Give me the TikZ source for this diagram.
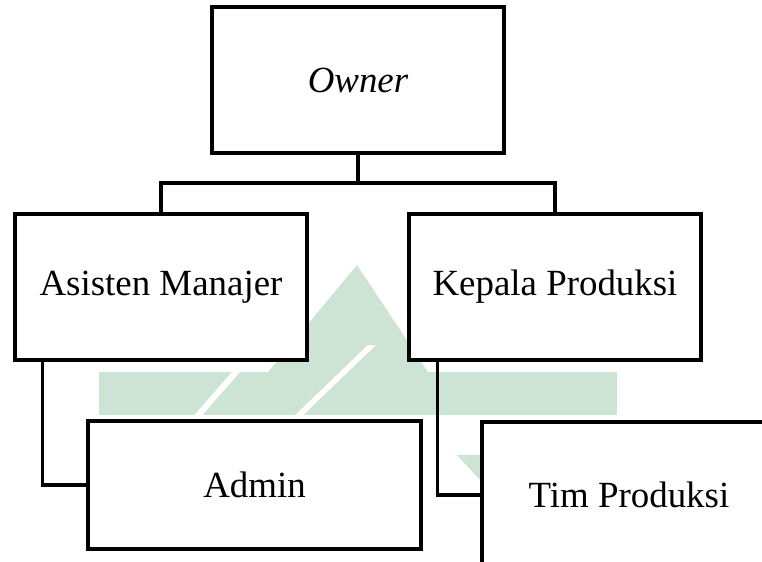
\documentclass[tikz,border=0pt]{standalone}
\usepackage{fontspec}
\setmainfont{Liberation Serif}
\usetikzlibrary{positioning}
\tikzset{>=latex}
\definecolor{wmgreen}{RGB}{205,228,213}
\tikzset{box/.style={draw,rectangle,line width=1.8pt,fill=white,inner sep=0pt,
    minimum width=5.84cm,minimum height=2.92cm,font=\fontsize{21}{25}\selectfont}}
\tikzset{link/.style={line width=1.8pt}}

\begin{document}
\begin{tikzpicture}[x=0.02cm,y=-0.02cm]
  \useasboundingbox (0,0) rectangle (762,562);
  \clip (0,0) rectangle (762,562);

  % Watermark
  \fill[wmgreen] (357,265) -- (268,372) -- (428,372) -- cycle;
  \fill[wmgreen] (99,372) rectangle (617,415);
  \fill[white] (190,420) -- (232,372) -- (240,372) -- (198,420) -- cycle;
  \fill[white] (290,420) -- (368,345) -- (376,345) -- (298,420) -- cycle;
  \fill[wmgreen] (457,455) -- (482,455) -- (482,482) -- cycle;

  % Boxes
  \node[box] (owner) at (358,80) {\itshape Owner};
  \node[box] (asisten) at (161,287) {Asisten Manajer};
  \node[box] (kepala) at (555,287) {Kepala Produksi};
  \node[box,minimum width=6.66cm,minimum height=2.56cm] (admin) at (254.5,485) {Admin};
  \node[box,minimum width=5.88cm] (tim) at (629,495) {Tim Produksi};

  % Links
  \coordinate (bus) at (358,183);
  \draw[link] (owner.south) -- (bus);
  \draw[link] (asisten.north) |- (bus) -| (kepala.north);
  \draw[link] ([xshift=0.58cm]asisten.south west) |- (admin.west);
  \draw[link] ([xshift=0.6cm]kepala.south west) |- (tim.west);

\end{tikzpicture}
\end{document}
